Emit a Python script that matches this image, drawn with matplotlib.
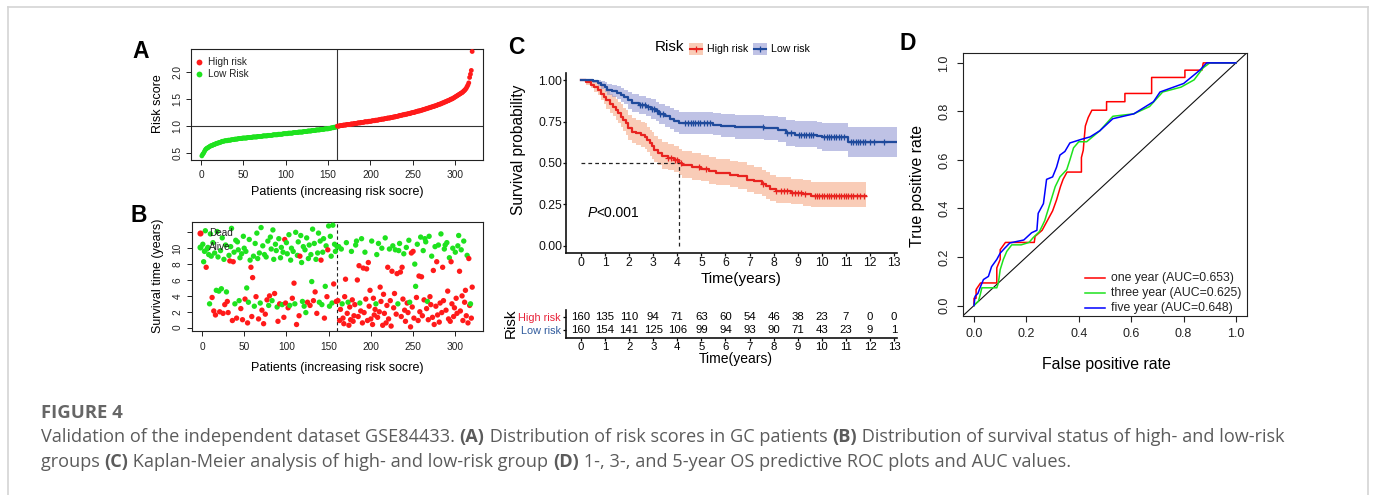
import numpy as np
import matplotlib
matplotlib.use("Agg")
import matplotlib.pyplot as plt
from matplotlib.lines import Line2D
from matplotlib.patches import Rectangle

W, H = 1375, 495
plt.rcParams['font.family'] = ['Liberation Sans', 'DejaVu Sans']

RED = '#ff1a1a'
GREEN = '#1ee21e'
KM_RED = '#e8231f'
KM_BLUE = '#1f4a9c'
CAP = '#5b5b5b'

# ---- panel A: sorted risk scores (patients 1..320) ----
risk_score = [
    0.45, 0.48, 0.50, 0.53, 0.56, 0.58, 0.59, 0.60, 0.61, 0.62,
    0.63, 0.64, 0.64, 0.65, 0.66, 0.66, 0.67, 0.68, 0.68, 0.69,
    0.69, 0.70, 0.70, 0.71, 0.72, 0.72, 0.72, 0.73, 0.73, 0.73,
    0.73, 0.74, 0.74, 0.74, 0.74, 0.75, 0.75, 0.75, 0.75, 0.76,
    0.76, 0.76, 0.76, 0.77, 0.77, 0.77, 0.77, 0.77, 0.78, 0.78,
    0.78, 0.78, 0.78, 0.78, 0.79, 0.79, 0.79, 0.79, 0.79, 0.79,
    0.80, 0.80, 0.80, 0.80, 0.80, 0.80, 0.81, 0.81, 0.81, 0.81,
    0.81, 0.81, 0.82, 0.82, 0.82, 0.82, 0.82, 0.82, 0.83, 0.83,
    0.83, 0.83, 0.83, 0.83, 0.84, 0.84, 0.84, 0.84, 0.84, 0.84,
    0.85, 0.85, 0.85, 0.85, 0.85, 0.85, 0.86, 0.86, 0.86, 0.86,
    0.86, 0.86, 0.87, 0.87, 0.87, 0.87, 0.87, 0.87, 0.88, 0.88,
    0.88, 0.88, 0.88, 0.88, 0.89, 0.89, 0.89, 0.89, 0.89, 0.89,
    0.90, 0.90, 0.90, 0.90, 0.90, 0.91, 0.91, 0.91, 0.91, 0.91,
    0.92, 0.92, 0.92, 0.92, 0.92, 0.93, 0.93, 0.93, 0.93, 0.93,
    0.94, 0.94, 0.94, 0.94, 0.94, 0.95, 0.95, 0.95, 0.95, 0.95,
    0.96, 0.96, 0.96, 0.97, 0.97, 0.97, 0.98, 0.98, 0.98, 0.99,
    1.00, 1.00, 1.00, 1.01, 1.01, 1.01, 1.01, 1.02, 1.02, 1.02,
    1.02, 1.03, 1.03, 1.03, 1.03, 1.03, 1.04, 1.04, 1.04, 1.04,
    1.05, 1.05, 1.05, 1.05, 1.06, 1.06, 1.06, 1.06, 1.07, 1.07,
    1.07, 1.07, 1.08, 1.08, 1.08, 1.08, 1.08, 1.09, 1.09, 1.09,
    1.09, 1.10, 1.10, 1.10, 1.10, 1.11, 1.11, 1.11, 1.11, 1.12,
    1.12, 1.12, 1.13, 1.13, 1.13, 1.13, 1.14, 1.14, 1.14, 1.15,
    1.15, 1.15, 1.15, 1.16, 1.16, 1.16, 1.17, 1.17, 1.17, 1.18,
    1.18, 1.18, 1.19, 1.19, 1.20, 1.20, 1.20, 1.21, 1.21, 1.21,
    1.22, 1.22, 1.22, 1.23, 1.23, 1.23, 1.24, 1.24, 1.25, 1.25,
    1.25, 1.26, 1.26, 1.27, 1.27, 1.28, 1.28, 1.28, 1.29, 1.29,
    1.30, 1.30, 1.31, 1.31, 1.32, 1.32, 1.33, 1.33, 1.34, 1.34,
    1.35, 1.35, 1.36, 1.36, 1.37, 1.37, 1.38, 1.38, 1.39, 1.40,
    1.40, 1.41, 1.41, 1.42, 1.43, 1.43, 1.44, 1.45, 1.45, 1.46,
    1.47, 1.47, 1.48, 1.49, 1.50, 1.50, 1.51, 1.52, 1.53, 1.54,
    1.55, 1.56, 1.57, 1.58, 1.59, 1.60, 1.61, 1.62, 1.63, 1.65,
    1.66, 1.68, 1.70, 1.73, 1.76, 1.80, 1.90, 1.96, 2.03, 2.38,
]
cutoff_patient = 160
cutoff_score = 1.0

# ---- panel B: survival time (years) and status (1 = dead) per patient ----
surv_time = [
    10.5, 8.3, 9.6, 12.2, 7.6, 9.9, 10.1, 9.2, 3.0, 11.8, 9.0, 3.8, 10.7, 2.1, 9.4, 1.6, 4.7, 12.1, 8.9, 4.6,
    2.0, 9.7, 4.9, 11.3, 1.8, 8.6, 2.9, 10.4, 4.5, 3.3, 1.9, 9.1, 8.4, 10.2, 12.5, 0.9, 8.3, 9.5, 3.0, 11.0,
    1.2, 10.8, 9.8, 3.4, 8.8, 2.4, 9.3, 1.0, 11.5, 10.0, 3.6, 9.6, 5.0, 0.6, 3.2, 11.1, 8.5, 7.6, 1.4, 6.3,
    9.0, 2.7, 10.6, 3.9, 11.9, 8.7, 1.1, 9.4, 3.1, 12.6, 2.2, 10.3, 0.5, 9.2, 1.7, 8.9, 3.5, 10.9, 2.8, 4.0,
    11.4, 9.9, 3.4, 12.3, 8.6, 4.3, 10.5, 9.7, 2.6, 0.8, 11.2, 3.0, 8.8, 10.1, 2.9, 9.5, 1.3, 11.1, 3.1, 10.7,
    9.3, 2.5, 11.7, 2.8, 8.5, 10.0, 3.7, 9.6, 5.6, 3.0, 12.0, 0.4, 9.1, 10.8, 1.5, 9.0, 11.6, 8.2, 3.3, 10.2,
    2.7, 9.8, 1.9, 11.3, 3.2, 8.7, 10.4, 2.8, 9.2, 5.8, 12.4, 3.4, 10.6, 4.5, 8.6, 1.8, 9.4, 11.9, 3.2, 10.9,
    8.5, 2.9, 9.5, 11.2, 1.2, 5.2, 10.3, 3.9, 9.8, 12.8, 2.7, 11.5, 9.0, 3.1, 12.9, 5.5, 10.5, 9.6, 3.3, 10.2,
    3.4, 10.2, 0.9, 2.3, 9.9, 3.0, 1.2, 0.5, 3.9, 6.1, 10.7, 1.8, 3.2, 0.3, 2.6, 1.0, 9.6, 3.5, 0.8, 1.5,
    2.9, 10.4, 10.9, 6.0, 1.4, 7.8, 3.1, 2.1, 11.2, 0.6, 7.5, 1.9, 9.5, 3.6, 7.4, 0.9, 8.2, 2.7, 4.7, 1.1,
    10.9, 0.4, 3.7, 1.6, 2.3, 3.0, 9.2, 1.3, 10.6, 2.0, 5.1, 3.3, 10.0, 0.3, 4.2, 1.8, 11.3, 0.6, 2.8, 7.6,
    1.1, 9.9, 3.4, 0.2, 7.1, 10.3, 2.5, 4.3, 9.8, 1.7, 6.8, 3.0, 9.7, 10.6, 7.0, 1.4, 7.6, 3.6, 9.3, 2.2,
    0.8, 10.1, 3.1, 1.9, 11.0, 3.2, 0.1, 9.4, 2.6, 9.6, 1.2, 8.0, 5.2, 3.8, 10.5, 0.9, 6.5, 2.0, 11.4, 6.4,
    1.5, 9.7, 3.5, 11.2, 10.8, 2.4, 3.3, 1.0, 11.5, 3.9, 2.9, 9.0, 1.3, 7.2, 0.4, 10.2, 2.7, 8.3, 1.6, 10.4,
    0.7, 3.1, 11.8, 1.9, 7.6, 3.4, 9.9, 10.4, 2.2, 10.7, 4.6, 1.1, 8.8, 0.8, 8.3, 3.0, 10.0, 1.4, 2.5, 9.5,
    3.7, 1.8, 10.3, 11.6, 7.1, 2.1, 9.8, 4.0, 0.9, 10.9, 3.2, 4.7, 1.5, 9.1, 0.6, 8.7, 2.8, 3.0, 1.2, 5.1,
]
surv_status = [
    0, 0, 0, 0, 1, 0, 0, 0, 0, 0, 0, 1, 0, 1, 0, 1, 0, 0, 0, 0,
    1, 0, 0, 0, 1, 0, 1, 0, 0, 1, 1, 0, 1, 0, 0, 1, 1, 0, 0, 0,
    1, 0, 0, 0, 0, 1, 0, 1, 0, 0, 1, 0, 0, 1, 0, 0, 0, 1, 1, 1,
    0, 0, 0, 1, 0, 0, 1, 0, 0, 0, 1, 0, 1, 0, 1, 0, 1, 0, 0, 1,
    0, 0, 0, 0, 0, 1, 0, 0, 0, 1, 0, 1, 0, 0, 0, 0, 1, 1, 1, 0,
    0, 1, 0, 0, 0, 0, 1, 0, 1, 0, 0, 1, 0, 0, 1, 1, 0, 0, 0, 0,
    0, 0, 0, 0, 1, 0, 0, 1, 0, 0, 0, 1, 0, 1, 0, 1, 0, 0, 0, 0,
    1, 0, 0, 0, 1, 0, 0, 1, 1, 0, 0, 0, 0, 0, 0, 1, 0, 0, 1, 0,
    1, 0, 1, 1, 0, 0, 1, 1, 1, 1, 0, 1, 0, 1, 1, 1, 0, 1, 1, 1,
    1, 0, 0, 1, 1, 1, 0, 1, 0, 1, 1, 1, 0, 1, 1, 1, 1, 1, 1, 1,
    0, 1, 1, 1, 1, 0, 0, 1, 0, 1, 1, 1, 0, 1, 1, 1, 0, 1, 1, 1,
    1, 0, 1, 1, 1, 0, 1, 1, 0, 1, 1, 0, 0, 0, 1, 1, 1, 1, 0, 1,
    1, 0, 1, 1, 0, 0, 1, 1, 1, 1, 1, 0, 0, 1, 0, 1, 1, 1, 0, 1,
    1, 0, 1, 0, 0, 1, 0, 1, 0, 1, 1, 0, 1, 1, 1, 0, 1, 1, 1, 0,
    1, 1, 0, 1, 1, 1, 0, 0, 1, 0, 1, 1, 0, 1, 1, 1, 0, 1, 1, 0,
    1, 1, 0, 0, 1, 1, 0, 1, 1, 0, 1, 1, 1, 0, 1, 1, 1, 0, 1, 1,
]

# ---- panel C: Kaplan-Meier steps, 95% CI and censor times ----
high_t = [0, 0.2, 0.4, 0.55, 0.7, 0.85, 0.95, 1.05, 1.2, 1.35,
          1.45, 1.55, 1.65, 1.75, 1.85, 1.95, 2.1, 2.3, 2.5, 2.65,
          2.75, 2.85, 2.95, 3.05, 3.2, 3.35, 3.6, 3.85, 4.05, 4.2,
          4.6, 5.0, 5.3, 5.6, 6.2, 6.5, 6.9, 7.2, 7.5, 7.7,
          7.85, 8.1, 8.7, 9.2, 9.55]
high_s = [1.0, 0.99, 0.975, 0.96, 0.945, 0.92, 0.90, 0.88, 0.86, 0.84,
          0.82, 0.80, 0.78, 0.76, 0.74, 0.71, 0.69, 0.68, 0.67, 0.66,
          0.64, 0.62, 0.60, 0.58, 0.56, 0.54, 0.53, 0.52, 0.50, 0.485,
          0.475, 0.465, 0.45, 0.44, 0.43, 0.42, 0.40, 0.39, 0.375, 0.36,
          0.34, 0.33, 0.32, 0.31, 0.30]
high_up = [1.0, 1.0, 0.995, 0.99, 0.98, 0.965, 0.95, 0.935, 0.92, 0.905,
           0.89, 0.87, 0.855, 0.835, 0.82, 0.79, 0.77, 0.76, 0.75, 0.74,
           0.72, 0.70, 0.685, 0.665, 0.645, 0.625, 0.615, 0.605, 0.585, 0.57,
           0.56, 0.55, 0.535, 0.525, 0.515, 0.505, 0.485, 0.475, 0.46, 0.445,
           0.425, 0.415, 0.405, 0.395, 0.385]
high_lo = [1.0, 0.975, 0.955, 0.93, 0.91, 0.88, 0.855, 0.83, 0.805, 0.785,
           0.76, 0.74, 0.715, 0.695, 0.67, 0.64, 0.62, 0.61, 0.595, 0.585,
           0.565, 0.545, 0.525, 0.505, 0.485, 0.465, 0.455, 0.445, 0.425, 0.41,
           0.40, 0.39, 0.375, 0.365, 0.355, 0.345, 0.325, 0.315, 0.30, 0.285,
           0.27, 0.26, 0.25, 0.24, 0.235]
high_end = 11.85
high_cens = [3.6, 3.75, 3.9, 4.0, 4.15, 4.9, 5.2, 7.55, 8.1, 8.3, 8.45, 8.55,
             8.75, 8.9, 9.0, 9.15, 9.3, 9.7, 9.8, 9.9, 10.0, 10.1, 10.2, 10.3,
             10.4, 10.5, 10.6, 10.7, 10.8, 10.9, 11.0, 11.1, 11.2, 11.3, 11.45,
             11.6, 11.75]

low_t = [0, 0.5, 0.7, 0.85, 1.0, 1.1, 1.3, 1.5, 1.65, 1.8,
         1.95, 2.1, 2.4, 2.7, 2.9, 3.1, 3.25, 3.5, 3.7, 3.85,
         4.05, 5.5, 5.8, 6.4, 7.6, 8.2, 8.5, 8.9, 9.8, 10.0, 11.1]
low_s = [1.0, 0.994, 0.987, 0.975, 0.962, 0.944, 0.936, 0.925, 0.912, 0.90,
         0.88, 0.862, 0.85, 0.838, 0.825, 0.812, 0.795, 0.782, 0.768, 0.752,
         0.74, 0.732, 0.722, 0.716, 0.71, 0.70, 0.68, 0.672, 0.665, 0.655, 0.625]
low_up = [1.0, 1.0, 1.0, 0.995, 0.99, 0.98, 0.975, 0.965, 0.955, 0.945,
          0.93, 0.915, 0.905, 0.895, 0.885, 0.872, 0.858, 0.846, 0.834, 0.82,
          0.81, 0.803, 0.795, 0.79, 0.785, 0.777, 0.76, 0.753, 0.748, 0.74, 0.72]
low_lo = [1.0, 0.982, 0.968, 0.95, 0.93, 0.91, 0.898, 0.885, 0.87, 0.855,
          0.83, 0.81, 0.797, 0.783, 0.768, 0.752, 0.735, 0.72, 0.705, 0.688,
          0.675, 0.667, 0.655, 0.648, 0.64, 0.628, 0.605, 0.595, 0.585, 0.575, 0.535]
low_end = 13.1
low_cens = [2.45, 2.55, 2.65, 2.8, 2.95, 3.05, 3.15, 3.3, 3.4, 4.3, 4.45, 4.55,
            4.65, 4.75, 4.85, 4.95, 5.1, 5.25, 5.35, 7.55, 8.55, 8.7, 9.05, 9.15,
            9.25, 9.35, 9.45, 9.55, 9.65, 10.1, 10.2, 10.3, 10.4, 10.5, 10.6,
            10.7, 10.8, 10.9, 11.2, 11.3, 11.4, 11.5, 11.6, 11.7, 11.8, 12.0,
            12.15, 12.6]
median_high = 4.05
p_text = "<0.001"

table_years = list(range(14))
high_n = [160, 135, 110, 94, 71, 63, 60, 54, 46, 38, 23, 7, 0, 0]
low_n = [160, 154, 141, 125, 106, 99, 94, 93, 90, 71, 43, 23, 9, 1]

# ---- panel D: ROC curves ----
red_fpr = [0.0, 0.0, 0.008, 0.008, 0.025, 0.087, 0.087, 0.10, 0.10, 0.12,
           0.23, 0.233, 0.26, 0.28, 0.30, 0.315, 0.33, 0.34, 0.355, 0.41,
           0.41, 0.417, 0.42, 0.425, 0.436, 0.45, 0.506, 0.506, 0.576, 0.576,
           0.678, 0.678, 0.805, 0.805, 0.87, 0.875, 1.0]
red_tpr = [0.0, 0.03, 0.03, 0.066, 0.093, 0.093, 0.155, 0.19, 0.23, 0.26,
           0.26, 0.285, 0.31, 0.35, 0.39, 0.435, 0.49, 0.52, 0.55, 0.55,
           0.61, 0.64, 0.68, 0.74, 0.775, 0.805, 0.805, 0.84, 0.84, 0.874,
           0.874, 0.94, 0.94, 0.97, 0.97, 1.0, 1.0]
green_fpr = [0.0, 0.008, 0.017, 0.025, 0.03, 0.087, 0.093, 0.10, 0.112, 0.125,
             0.144, 0.18, 0.21, 0.226, 0.25, 0.27, 0.29, 0.31, 0.328, 0.354,
             0.366, 0.38, 0.40, 0.43, 0.48, 0.53, 0.61, 0.67, 0.72, 0.79,
             0.84, 0.875, 0.90, 1.0]
green_tpr = [0.0, 0.01, 0.018, 0.05, 0.073, 0.073, 0.093, 0.148, 0.19, 0.223,
             0.25, 0.25, 0.26, 0.28, 0.305, 0.35, 0.42, 0.49, 0.53, 0.56,
             0.60, 0.65, 0.675, 0.675, 0.72, 0.78, 0.79, 0.82, 0.88, 0.90,
             0.93, 0.98, 1.0, 1.0]
blue_fpr = [0.0, 0.004, 0.015, 0.023, 0.036, 0.055, 0.067, 0.087, 0.10, 0.118,
            0.137, 0.19, 0.22, 0.24, 0.245, 0.265, 0.277, 0.30, 0.315, 0.328,
            0.347, 0.366, 0.41, 0.443, 0.48, 0.53, 0.61, 0.685, 0.71, 0.80,
            0.862, 0.888, 1.0]
blue_tpr = [0.0, 0.038, 0.05, 0.073, 0.107, 0.12, 0.16, 0.19, 0.216, 0.237,
            0.258, 0.27, 0.30, 0.31, 0.38, 0.42, 0.52, 0.53, 0.57, 0.62,
            0.635, 0.67, 0.685, 0.695, 0.72, 0.77, 0.79, 0.84, 0.88, 0.915,
            0.97, 1.0, 1.0]
roc_labels = ["one year (AUC=0.653)", "three year (AUC=0.625)", "five year (AUC=0.648)"]
roc_colors = ['#ff0000', '#1ee21e', '#0000ff']

caption_title = "FIGURE 4"
caption_line1 = [("Validation of the independent dataset GSE84433. ", False), ("(A)", True),
                 (" Distribution of risk scores in GC patients ", False), ("(B)", True),
                 (" Distribution of survival status of high- and low-risk", False)]
caption_line2 = [("groups ", False), ("(C)", True),
                 (" Kaplan-Meier analysis of high- and low-risk group ", False), ("(D)", True),
                 (" 1-, 3-, and 5-year OS predictive ROC plots and AUC values.", False)]


fig = plt.figure(figsize=(W / 100, H / 100), dpi=100)
renderer = fig.canvas.get_renderer()


def fx(x):
    return x / W


def fy(y):
    return 1 - y / H


def box(l, t, r, b):
    return [l / W, 1 - b / H, (r - l) / W, (b - t) / H]


def ftext(x, y, s, **kw):
    return fig.text(fx(x), fy(y), s, **kw)


def width_px(s, **kw):
    # width including leading/trailing spaces
    a = fig.text(0, 0, '|' + s + '|', **kw)
    b = fig.text(0, 0, '||', **kw)
    w = a.get_window_extent(renderer).width - b.get_window_extent(renderer).width
    a.remove()
    b.remove()
    return w


def r_box(ax):
    for sp in ax.spines.values():
        sp.set_linewidth(0.8)
        sp.set_color('#222222')


# ---------------- A ----------------
axA = fig.add_axes(box(191, 49, 483, 160))
pid = np.arange(1, len(risk_score) + 1)
colA = np.where(pid <= cutoff_patient, GREEN, RED)
axA.scatter(pid, risk_score, s=12, c=colA, lw=0, zorder=3)
axA.axhline(cutoff_score, color='#333333', lw=0.8, zorder=2)
axA.axvline(cutoff_patient, color='#333333', lw=0.8, zorder=2)
axA.set_xlim(-11.8, 332.8)
axA.set_ylim(0.374, 2.426)
axA.set_xticks([0, 50, 100, 150, 200, 250, 300])
axA.set_yticks([0.5, 1.0, 1.5, 2.0])
axA.set_yticklabels(['0.5', '1.0', '1.5', '2.0'], rotation=90, va='center')
axA.tick_params(axis='x', labelsize=7.3, length=3.6, width=0.7, pad=3.4, colors='#222222')
axA.tick_params(axis='y', labelsize=7.3, length=3.6, width=0.7, pad=2.6, colors='#222222')
r_box(axA)
ftext(337, 192, "Patients (increasing risk socre)", fontsize=9, ha='center', va='center')
ftext(158, 104, "Risk score", fontsize=9, ha='center', va='center', rotation=90)
# legend
for yy, c, lab in [(62, RED, "High risk"), (74, GREEN, "Low Risk")]:
    fig.add_artist(Line2D([fx(199)], [fy(yy)], marker='o', ms=4.2, color=c, mew=0, transform=fig.transFigure))
    ftext(208, yy, lab, fontsize=7.2, va='center', color='#222222')

# ---------------- B ----------------
axB = fig.add_axes(box(192, 222, 483, 331))
colB = np.where(np.array(surv_status) == 1, RED, GREEN)
axB.scatter(pid, surv_time, s=15, c=colB, lw=0, zorder=3)
axB.axvline(cutoff_patient, color='#222222', lw=0.8, ls=(0, (3, 2.5)), zorder=2)
axB.set_xlim(-11.8, 332.8)
axB.set_ylim(-0.42, 13.3)
axB.set_xticks([0, 50, 100, 150, 200, 250, 300])
axB.set_yticks([0, 2, 4, 6, 8, 10, 12])
axB.set_yticklabels(['0', '2', '4', '6', '8', '10', ''], rotation=90, va='center')
axB.tick_params(axis='x', labelsize=7.3, length=3.6, width=0.7, pad=4.4, colors='#222222')
axB.tick_params(axis='y', labelsize=7.3, length=3.6, width=0.7, pad=3.2, colors='#222222')
r_box(axB)
ftext(337, 368, "Patients (increasing risk socre)", fontsize=9, ha='center', va='center')
ftext(158, 276, "Survival time (years)", fontsize=9, ha='center', va='center', rotation=90)
for yy, c, lab in [(233, RED, "Dead"), (247, GREEN, "Alive")]:
    fig.add_artist(Line2D([fx(200)], [fy(yy)], marker='o', ms=4.4, color=c, mew=0, transform=fig.transFigure))
    ftext(209, yy, lab, fontsize=7.2, va='center', color='#222222')

# ---------------- C ----------------
axC = fig.add_axes(box(566, 73, 897, 253))
for t, lo, up, end, fill_c in [(high_t, high_lo, high_up, high_end, '#f5a27d'),
                               (low_t, low_lo, low_up, low_end, '#8c90d0')]:
    tt = np.append(t, end)
    axC.fill_between(tt, np.append(lo, lo[-1]), np.append(up, up[-1]), step='post',
                     color=fill_c, alpha=0.55, lw=0, zorder=1)
for t, s, end, cens, line_c in [(high_t, high_s, high_end, high_cens, KM_RED),
                                (low_t, low_s, low_end, low_cens, KM_BLUE)]:
    tt = np.append(t, end)
    ss = np.append(s, s[-1])
    axC.step(tt, ss, where='post', color=line_c, lw=1.6, zorder=3)
    idx = np.searchsorted(t, cens, side='right') - 1
    axC.plot(cens, np.array(s)[idx], ls='none', marker='+', ms=4.5, mew=0.9, color=line_c, zorder=4)
axC.plot([0, median_high], [0.5, 0.5], color='#222222', lw=0.9, ls=(0, (3, 2.5)), zorder=5)
axC.plot([median_high, median_high], [0, 0.5], color='#222222', lw=0.9, ls=(0, (3, 2.5)), zorder=5)
axC.set_xlim(-0.62, 13.12)
axC.set_ylim(-0.045, 1.045)
axC.set_xticks(range(14))
axC.set_yticks([0, 0.25, 0.5, 0.75, 1.0])
axC.set_yticklabels(['0.00', '0.25', '0.50', '0.75', '1.00'])
axC.spines['top'].set_visible(False)
axC.spines['right'].set_visible(False)
for sp in ('left', 'bottom'):
    axC.spines[sp].set_linewidth(1.2)
    axC.spines[sp].set_color('#111111')
axC.tick_params(axis='both', labelsize=8.7, length=2.4, width=0.9, colors='#111111', pad=0.3)
ftext(518, 150, "Survival probability", fontsize=11.2, ha='center', va='center', rotation=90)
ftext(741, 279, "Time(years)", fontsize=11, ha='center', va='center')
# P value
px0 = 566 + (0.26 + 0.62) / 13.74 * 331
py0 = 253 - (0.2 + 0.045) / 1.09 * 180
ftext(px0, py0, "P", fontsize=10, style='italic', va='center')
ftext(px0 + width_px("P", fontsize=10, style='italic'), py0, p_text, fontsize=10, va='center')

# legend above C
ftext(670, 47, "Risk", fontsize=11, ha='center', va='center')
for x0, fill_c, line_c, lab in [(689, '#f5a27d', KM_RED, "High risk"), (753, '#8c90d0', KM_BLUE, "Low risk")]:
    fig.add_artist(Rectangle((fx(x0), fy(55)), 14 / W, 12 / H, transform=fig.transFigure,
                             facecolor=fill_c, alpha=0.55, lw=0))
    fig.add_artist(Line2D([fx(x0 + 1), fx(x0 + 13)], [fy(49), fy(49)], color=line_c, lw=1.5,
                          transform=fig.transFigure))
    fig.add_artist(Line2D([fx(x0 + 7)], [fy(49)], marker='+', ms=4.5, mew=0.9, color=line_c,
                          transform=fig.transFigure))
    ftext(x0 + 18, 48.5, lab, fontsize=7.6, va='center')

# risk table
axT = fig.add_axes(box(566, 310, 897, 338))
for i, (nh, nl) in enumerate(zip(high_n, low_n)):
    axT.text(table_years[i], 1, str(nh), ha='center', va='center', fontsize=8.2)
    axT.text(table_years[i], 0, str(nl), ha='center', va='center', fontsize=8.2)
axT.set_xlim(-0.62, 13.12)
axT.set_ylim(-0.615, 1.54)
axT.set_xticks(table_years)
axT.set_yticks([1, 0])
axT.set_yticklabels(["High risk", "Low risk"])
axT.get_yticklabels()[0].set_color('#e8233a')
axT.get_yticklabels()[1].set_color('#2f5a9c')
axT.spines['top'].set_visible(False)
axT.spines['right'].set_visible(False)
for sp in ('left', 'bottom'):
    axT.spines[sp].set_linewidth(1.2)
    axT.spines[sp].set_color('#111111')
axT.tick_params(axis='x', labelsize=8.2, length=2.2, width=0.9, pad=0.6)
axT.tick_params(axis='y', labelsize=7.8, length=2.2, width=0.9, pad=1.4)
ftext(736, 359, "Time(years)", fontsize=10, ha='center', va='center')
ftext(511, 323, "Risk", fontsize=11, ha='center', va='center', rotation=90)

# ---------------- D ----------------
axD = fig.add_axes(box(963, 52.7, 1247, 315.7))
axD.axline((0, 0), slope=1, color='#111111', lw=0.8, zorder=1)
for f, t, c in [(red_fpr, red_tpr, roc_colors[0]), (green_fpr, green_tpr, roc_colors[1]),
                (blue_fpr, blue_tpr, roc_colors[2])]:
    axD.plot(f, t, color=c, lw=1.1, zorder=3)
axD.set_xlim(-0.042, 1.042)
axD.set_ylim(-0.042, 1.042)
axD.set_xticks([0, 0.2, 0.4, 0.6, 0.8, 1.0])
axD.set_yticks([0, 0.2, 0.4, 0.6, 0.8, 1.0])
axD.set_xticklabels(['0.0', '0.2', '0.4', '0.6', '0.8', '1.0'])
axD.set_yticklabels(['0.0', '0.2', '0.4', '0.6', '0.8', '1.0'], rotation=90, va='center')
axD.tick_params(axis='x', labelsize=9, length=4.3, width=0.8, pad=4.2, colors='#222222')
axD.tick_params(axis='y', labelsize=9, length=4.3, width=0.8, pad=4.8, colors='#222222')
r_box(axD)
ftext(1106, 365, "False positive rate", fontsize=11.4, ha='center', va='center')
ftext(918, 186, "True positive rate", fontsize=11.4, ha='center', va='center', rotation=90)
for yy, c, lab in zip([278, 293, 308], roc_colors, roc_labels):
    fig.add_artist(Line2D([fx(1085), fx(1105)], [fy(yy), fy(yy)], color=c, lw=1.1, transform=fig.transFigure))
    ftext(1111, yy, lab, fontsize=8.8, va='center', color='#222222')

# panel letters
for x, y, L in [(141, 51.5, 'A'), (139, 215.5, 'B'), (516, 47.5, 'C'), (908, 43, 'D')]:
    ftext(x, y, L, fontsize=16.5, fontweight='bold', ha='center', va='center')

# ---------------- frame + caption ----------------
frame_c = '#d4d4d4'
fig.add_artist(Line2D([fx(8), fx(1368)], [fy(7), fy(7)], color=frame_c, lw=1.2, transform=fig.transFigure))
fig.add_artist(Line2D([fx(8), fx(8)], [fy(7), 0], color=frame_c, lw=1.2, transform=fig.transFigure))
fig.add_artist(Line2D([fx(1368), fx(1368)], [fy(7), 0], color=frame_c, lw=1.2, transform=fig.transFigure))

cap_font = ['Open Sans', 'DejaVu Sans']
ftext(41, 413, caption_title, fontsize=13.3, fontweight='bold', family=cap_font, color='#666666', va='center')


def caption_runs(x, y, parts, size):
    for s, bold in parts:
        kw = dict(fontsize=size, family=cap_font, fontweight='bold' if bold else 'normal')
        ftext(x, y, s, color=CAP, va='center', **kw)
        x += width_px(s, **kw)


caption_runs(41, 437, caption_line1, 13.1)
caption_runs(41, 462, caption_line2, 13.1)

fig.savefig("out.png", dpi=100, facecolor='white')
